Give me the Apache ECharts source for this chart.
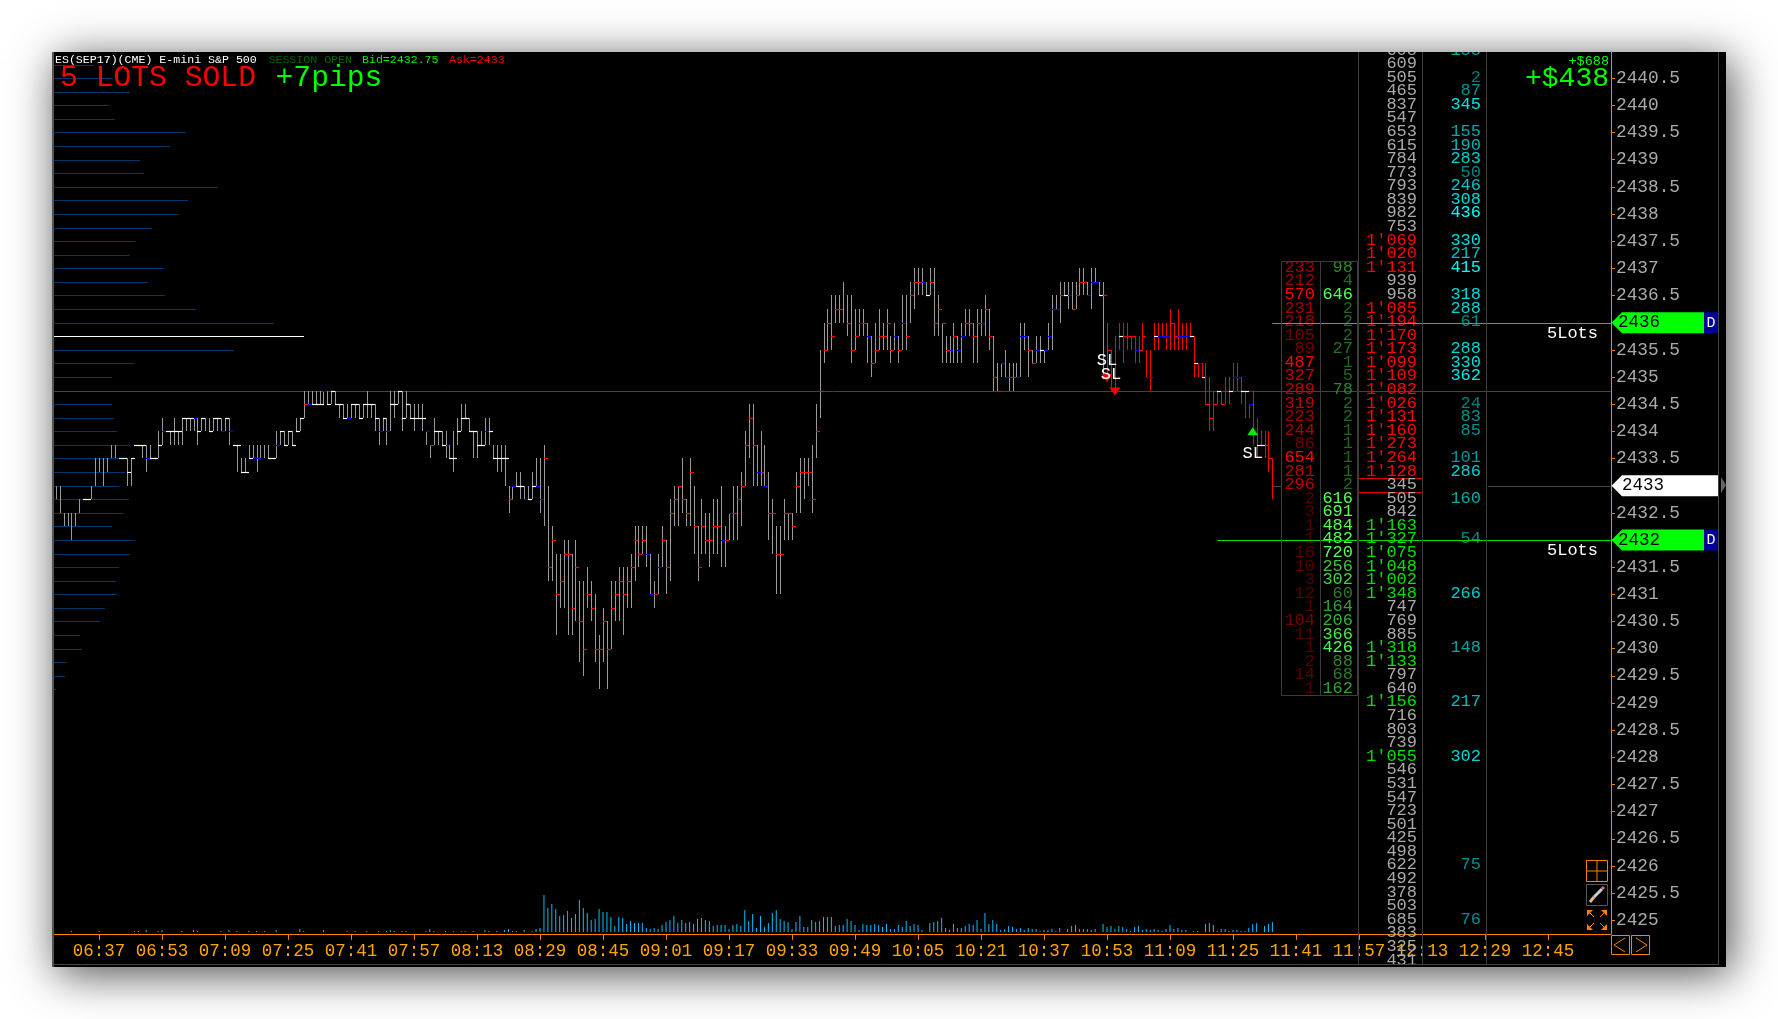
<!DOCTYPE html>
<html><head><meta charset="utf-8">
<style>html,body{margin:0;padding:0;background:#fff}#c{width:1778px;height:1019px}</style>
<script src="https://cdn.jsdelivr.net/npm/echarts@6/dist/echarts.min.js"></script>
</head><body><div id="c"></div>
<script>
const MONO = '"Liberation Mono"';
const timeLabels = ['06:37','06:53','07:09','07:25','07:41','07:57','08:13','08:29','08:45','09:01','09:17','09:33','09:49','10:05','10:21','10:37','10:53','11:09','11:25','11:41','11:57','12:13','12:29','12:45'];
const priceTicks = [2425,2425.5,2426,2426.5,2427,2427.5,2428,2428.5,2429,2429.5,2430,2430.5,2431,2431.5,2432,2432.5,2433,2433.5,2434,2434.5,2435,2435.5,2436,2436.5,2437,2437.5,2438,2438.5,2439,2439.5,2440,2440.5];
const firstBarTime = '06:26';
const barHighs = [
2433,2433,2432.5,2432.5,2432.5,2432.5,2432.75,2432.75,2432.75,2433,
2433.5,2433.5,2433.5,2433.5,2433.75,2433.75,2433.5,2433.5,2433.5,2433.5,
2433.75,2433.75,2433.75,2433.75,2433.75,2433.5,2434,2434.25,2434,2434,
2434.25,2434,2434.25,2434.25,2434.25,2434.25,2434.25,2434.25,2434.25,2434.25,
2434.25,2434.25,2434.25,2434.25,2434.25,2434,2433.75,2433.5,2433.5,2433.75,
2433.75,2433.75,2433.75,2433.75,2433.75,2433.5,2434,2434,2434,2434,
2434,2434.25,2434.25,2434.75,2434.75,2434.75,2434.75,2434.75,2434.75,2434.75,
2434.75,2434.75,2434.5,2434.5,2434.5,2434.5,2434.5,2434.5,2434.5,2434.75,
2434.5,2434.5,2434.25,2434.25,2434.25,2434.75,2434.75,2434.75,2434.75,2434.75,
2434.5,2434.5,2434.5,2434.5,2434,2433.75,2434.25,2434,2434,2434,
2433.75,2434,2434.25,2434.5,2434.5,2434.25,2434,2434,2434,2434.25,
2434.25,2433.75,2433.75,2433.75,2433.75,2433,2433,2433.25,2433.25,2433,
2433,2433.25,2433.5,2433.5,2433.75,2433,2432.25,2431.75,2431.75,2432,
2432,2431.75,2432,2431.25,2431.25,2431.5,2431.25,2431,2430.25,2430.75,
2430.5,2431.25,2431.25,2431.5,2431.5,2431.5,2431.75,2432.25,2432.25,2432.25,
2432.25,2431.75,2431.25,2431.75,2432.25,2432,2432.75,2433,2433,2433.5,
2432.75,2433.5,2433,2432.25,2432.75,2432.5,2432.5,2432.75,2432.75,2433,
2432.25,2432.5,2433,2433,2433.25,2434,2434.5,2434.5,2433.75,2434,
2433.75,2433.25,2432.75,2432.25,2432.25,2432.75,2432.5,2432.5,2433.25,2433.5,
2433.5,2433.5,2433.75,2434.5,2435.5,2436,2436.25,2436.5,2436.5,2436.5,
2436.75,2436.5,2436.5,2436.25,2436.25,2436.25,2436,2435.75,2436,2436.25,
2436,2436.25,2435.75,2436,2435.75,2436.5,2436.5,2436.75,2437,2437,
2437,2436.75,2437,2437,2436.5,2436,2435.75,2435.75,2436,2435.75,
2436,2436.25,2436.25,2436,2436.25,2436.25,2436.5,2436.25,2435.75,2435.25,
2435.25,2435.5,2435.25,2435.25,2435.25,2436,2436,2435.75,2435.5,2435.75,
2435.75,2435.5,2436,2436.5,2436.5,2436.75,2436.75,2436.75,2436.75,2436.75,
2437,2437,2436.75,2437,2437,2436.75,2436.75,2436,2435.5,2435.75,
2436,2436,2436,2435.75,2435.75,2435.75,2436,2435.5,2435.5,2436,
2436,2436,2436,2436.25,2436,2436.25,2436,2436,2436,2435.75,
2435.25,2435.25,2435.25,2435,2434.75,2434.75,2434.75,2435,2435,2435.25,
2435.25,2435,2434.75,2434.5,2434.75,2434.25,2434,2434,2434,2433.5];
const barLows = [
2432.75,2432.5,2432.25,2432.25,2432,2432.25,2432.5,2432.75,2432.75,2432.75,
2433,2433.25,2433,2433.25,2433.5,2433.5,2433.5,2433.5,2433,2433,
2433.75,2433.75,2433.5,2433.25,2433.5,2433.5,2433.5,2433.75,2434,2433.75,
2433.75,2433.75,2433.75,2434,2434,2434,2433.75,2434,2434,2434,
2434,2434,2434,2434,2433.75,2434,2433.25,2433.25,2433.25,2433.5,
2433.5,2433.25,2433.5,2433.5,2433.5,2433.5,2433.5,2433.75,2433.75,2433.75,
2433.75,2434,2434,2434.25,2434.5,2434.5,2434.5,2434.5,2434.5,2434.5,
2434.5,2434.5,2434.25,2434.25,2434.25,2434.25,2434.25,2434.25,2434.25,2434.25,
2434.25,2434,2433.75,2434,2433.75,2434,2434.25,2434.5,2434,2434.25,
2434.25,2434,2434.25,2434,2433.75,2433.5,2433.75,2433.75,2433.75,2433.5,
2433.5,2433.25,2433.75,2434,2434.25,2434,2433.5,2433.5,2433.75,2433.75,
2433.75,2433.5,2433.25,2433.25,2433,2432.5,2432.75,2433,2432.75,2432.75,
2432.75,2432.75,2433,2432.5,2432.25,2431.25,2431.25,2430.25,2430.75,2430.75,
2430.25,2430.25,2430.5,2429.75,2429.5,2430.75,2430.5,2429.75,2429.25,2429.75,
2429.25,2430,2430.5,2430.5,2430.25,2430.75,2430.75,2431.25,2431.5,2431.75,
2431.5,2431,2430.75,2431,2431.5,2431,2431.25,2432.25,2432.25,2432.5,
2432.25,2432.25,2431.75,2431.25,2431.75,2431.75,2431.5,2431.75,2431.75,2431.5,
2431.5,2432,2432,2432,2432.25,2433,2433.5,2433,2433,2433,
2433,2432,2431.75,2431,2431,2432,2432,2432,2432.5,2432.5,
2432.75,2433,2432.5,2433.5,2434.25,2435.25,2435.5,2435.5,2436,2436,
2436,2435.75,2435.25,2435.5,2435.75,2435.75,2435.25,2435,2435.25,2435.5,
2435.5,2435.5,2435.25,2435.5,2435.25,2435.5,2435.5,2436,2436.25,2436.5,
2436.5,2436.5,2436.5,2435.75,2435.75,2435.25,2435.25,2435.25,2435.25,2435.25,
2435.25,2435.75,2435.75,2435.25,2435.25,2435.75,2435.75,2435.5,2434.75,2434.75,
2435,2435,2434.75,2434.75,2435,2435,2435.5,2435,2435.25,2435.25,
2435.25,2435.25,2435.5,2435.5,2436.25,2436,2436.5,2436.25,2436.25,2436.25,
2436.5,2436.5,2436.5,2436.25,2436.75,2436.5,2435,2435,2434.75,2434.75,
2435.5,2435.25,2435.5,2435.5,2435.25,2435.25,2435.5,2435,2434.75,2435.5,
2435.5,2435.75,2435.5,2435.5,2435.5,2435.5,2435.5,2435.5,2435.75,2435,
2435,2435,2434.5,2434,2434,2434.5,2434.5,2434.5,2434.5,2434.75,
2434.75,2434.5,2434.25,2434.25,2433.75,2433.5,2433.75,2433.5,2433.25,2432.75];
const barCloses = [
null,null,null,null,null,null,null,2432.75,2432.75,null,
null,null,null,null,null,null,2433.5,2433.5,2433.25,2433.5,
2433.75,2433.75,2433.75,2433.5,2433.5,2433.5,2433.75,2434,2434,2434,
2434,2434,2434.25,2434.25,2434.25,2434.25,2434,2434.25,null,2434,
2434.25,2434.25,2434,2434.25,2434,2433.75,2433.75,2433.25,2433.25,2433.5,
2433.5,2433.5,null,null,2433.5,2433.5,2433.75,2434,2433.75,2434,
2433.75,2434,2434.25,2434.5,2434.5,2434.5,2434.5,2434.5,2434.75,2434.5,
2434.75,2434.5,2434.5,2434.25,2434.25,2434.5,2434.5,2434.25,2434.5,2434.5,
2434.5,2434.25,2434,2434.25,2434,2434.5,2434.5,2434.75,2434.25,2434.5,
2434.25,2434.25,2434.25,2434.25,2434,2433.75,2434,2434,2433.75,2433.75,
2433.5,2433.5,2434,2434.25,2434.25,2434,2434,2433.75,2433.75,2434,
2434,2433.5,2433.5,2433.5,2433.5,2432.75,2433,2433,2433,2432.75,
2432.75,2433,2433,2432.75,2433.5,2431.5,2432,2431,2431.25,2431.75,
2431.75,2430.75,2431.5,2430.5,2430,2431,2430.75,2430,2430,2430.5,
2430,2430.75,2431,2431.25,2431,2431.25,2431.5,2432,2431.75,2432,
2431.75,2431,2431,2431.5,2432,2431.5,2432.5,2432.75,2433,2432.75,
2432.5,2433.25,2432.25,2431.5,2432.25,2432,2432,2432.25,2432.25,2432,
2432,2432.5,2432.5,2432.75,2433,2433.75,2434.25,2433.75,2433.25,2433.25,
2433,2432.5,2432.5,2431.75,2431.75,2432.5,2432.5,2432.25,2433,2433.25,
2433.25,2433.25,2432.75,2434,2434.75,2435.5,2436,2435.75,2436.25,2436.25,
null,2436,2435.5,2435.75,2436,2436,2435.75,2435.25,2435.5,2435.75,
2435.75,2436,2435.5,2435.75,2435.5,2436,2435.75,2436.5,2436.75,2436.75,
2436.75,2436.5,2436.75,2436,2436.25,2436,2435.5,2435.5,2435.75,2435.5,
2435.75,2436,2436,2435.75,2436,2436,2436.25,2435.75,2435,2434.75,
2435.25,2435,2435,2435,2435,2435.75,2435.75,2435.5,2435.25,2435.5,
2435.5,2435.5,2435.75,2436.25,2436.25,2436.5,2436.5,2436.5,2436.25,2436.5,
2436.75,2436.75,2436.5,2436.75,2436.75,2436.5,2436.5,2435.5,null,2435.75,
2435.75,2435.75,2435.75,2435.75,2435.5,2435.5,2435.75,2435,2435,2435.75,
2435.75,2435.75,2435.75,2436,2435.75,2435.75,2435.75,2435.75,2435.75,2435.25,
2435.25,2435,2434.5,2434.25,2434.5,2434.75,2434.5,2434.75,2434.75,2435,
2435,2434.75,2434.75,2434.5,null,2433.75,2433.75,2433.75,2433.5,null];
const barFlags = [
'','','','','','','','w','w','',
'','','','','','','w','w','w','w',
'w','w','w','b','w','w','w','b','w','w',
'w','w','w','w','w','b','w','w','','w',
'w','w','b','w','b','w','w','w','w','w',
'b','b','','','w','w','b','w','w','w',
'w','w','w','r','b','w','w','w','b','w',
'w','w','w','w','b','w','w','w','w','w',
'w','w','b','w','b','w','w','w','w','w',
'w','w','w','w','b','r','w','w','w','b',
'w','w','w','w','w','w','w','w','w','b',
'w','w','w','w','w','r','b','w','w','b',
'w','w','b','b','r','r','r','r','r','r',
'r','r','r','r','r','r','r','r','r','r',
'r','r','r','r','r','r','r','r','r','r',
'b','b','r','b','r','r','r','r','r','r',
'r','r','r','r','r','r','r','r','r','b',
'r','b','r','r','r','r','r','r','b','r',
'b','r','r','r','r','r','r','r','r','r',
'r','r','r','r','r','r','r','r','r','r',
'','r','r','r','b','r','b','r','r','r',
'r','r','r','b','r','b','r','r','r','r',
'b','w','r','r','r','r','r','b','r','b',
'b','r','r','r','r','b','r','r','r','r',
'b','b','r','r','b','b','b','r','r','b',
'w','b','b','b','b','r','w','b','r','r',
'r','r','b','b','b','w','r','r','r','',
'w','r','r','r','b','r','r','b','b','w',
'b','b','b','r','r','b','b','b','w','w',
'b','w','r','r','r','w','r','r','w','b',
'b','w','w','b','','w','w','r','r',''];
const barVolumes = [
0,0,0,0,1,0,0,0,0,0,0,1,0,0,0,0,0,0,0,0,
1,1,0,2,0,0,1,2,0,0,0,0,1,0,0,2,1,0,0,0,
0,0,1,0,2,0,1,0,0,1,0,1,0,1,0,0,2,0,0,0,
0,0,3,1,0,0,0,0,2,0,0,0,0,0,1,0,1,0,0,1,
0,0,1,0,1,2,1,0,1,1,0,0,0,0,1,3,1,0,0,1,
0,1,0,1,1,0,1,0,0,2,1,0,1,0,2,3,1,1,0,2,
0,1,3,4,37,24,28,23,16,17,21,14,18,32,24,19,12,13,23,20,
20,15,6,15,14,8,11,9,9,9,4,3,4,3,7,10,12,16,9,12,
9,10,8,13,14,12,11,6,7,7,7,3,7,8,6,22,11,18,4,16,
5,9,19,22,13,11,10,3,10,16,5,5,12,10,11,15,15,15,6,7,
7,13,11,7,2,8,7,7,8,7,5,8,3,3,7,5,11,6,8,7,
2,0,9,10,11,14,4,2,8,4,4,6,8,7,12,3,19,8,12,8,
2,3,6,5,3,4,2,4,3,3,1,2,2,3,1,4,0,3,6,7,
3,3,3,2,3,0,8,5,6,3,6,5,3,1,5,6,2,3,2,3,
2,1,3,7,3,4,2,2,0,1,1,0,8,9,7,1,3,3,1,2,
2,1,1,4,8,9,0,6,8,10];
const profileTopPrice = 2440.75;
const profilePocPrice = 2435.75;
const profileValues = [40,59,76,55,61,132,116,86,90,164,134,125,98,81,76,110,94,111,142,220,250,180,80,58,47,58,60,63,76,74,71,65,75,70,58,81,76,65,62,63,51,46,26,28,13,11,2];
const ladderTopPrice = 2441;
const ladderVolume = [608,609,505,465,837,547,653,615,784,773,793,839,982,753,1069,1020,1131,939,958,1085,1194,1170,1173,1099,1109,1082,1026,1131,1160,1273,1264,1128,345,505,842,1163,1327,1075,1048,1002,1348,747,769,885,1318,1133,797,640,1156,716,803,739,1055,546,531,547,723,501,425,498,622,492,378,503,685,383,325,431];
const ladderCyan = [155,null,2,87,345,null,155,190,283,50,246,308,436,null,330,217,415,null,318,288,61,null,288,330,362,null,24,83,85,null,101,286,null,160,null,null,54,null,null,null,266,null,null,null,148,null,null,null,217,null,null,null,302,null,null,null,null,null,null,null,75,null,null,null,76,null,null,null];
const boxTopPrice = 2437;
const boxSell = [233,212,570,231,218,105,89,487,327,289,319,223,244,86,654,281,296,2,3,1,1,16,10,3,12,1,104,11,1,2,14,1];
const boxBuy = [98,4,646,2,2,2,27,1,5,78,2,2,1,1,1,1,2,616,691,484,482,720,256,302,60,164,206,366,426,88,68,162];
const lastPrice = 2433;
const orderPrices = [2436,2432];
const orderStartTimes = ['11:35','11:21'];
const orderLabels = ['5Lots','5Lots'];
const referencePrice = 2434.75;
const stopTimes = ['10:53','10:54','11:30'];
const stopPrices = [2435.31,2435.05,2433.6];
const sellArrowTimes = ['10:55','10:53'];
const sellArrowPrices = [2434.75,2435];
const buyArrowTimes = ['11:30'];
const buyArrowPrices = [2434];

const toMin = s => { const [h,m] = s.split(':').map(Number); return h*60+m; };
const fmtT = v => String(Math.floor(v/60)).padStart(2,'0')+':'+String(v%60).padStart(2,'0');
const t0 = toMin(firstBarTime);
const barT = i => t0+i;
const X_MIN = 385, X_MAX = 781;
const hex2 = v => Math.round(v).toString(16).padStart(2,'0');
const mix = (a,b,f) => a+(b-a)*Math.min(1,f);
const cyanC = v => { const c = hex2(mix(0x77,0xff,v/436)); return '#00'+c+c; };
const sellC = v => '#'+hex2(mix(0x55,0xff,v/500))+'0000';
const buyC = v => { const f=v/500; return '#'+hex2(mix(0x22,0x55,f))+hex2(mix(0x66,0xff,v/420))+hex2(mix(0x22,0x55,f)); };
const volC = (v,p) => v>=1000 ? (p>lastPrice?'#ff0000':'#00e000') : '#aaaaaa';
const fmtV = v => v>=1000 ? Math.floor(v/1000)+"'"+String(v%1000).padStart(3,'0') : String(v);
const flagC = {w:'#ffffff',b:'#0000ff',r:'#ff0000'};
const rowFont = '17px '+MONO;
const topClip = {type:'rect',shape:{x:0,y:52,width:1778,height:912}};

function rbars(params,api){
  const i = params.dataIndex, t = barT(i);
  const top = api.coord([t,barHighs[i]]), bot = api.coord([t,barLows[i]]);
  const x = Math.round(top[0])+0.5, ch = [];
  if (barHighs[i]!==barLows[i]) ch.push({type:'line',shape:{x1:x,y1:Math.round(top[1]),x2:x,y2:Math.round(bot[1])},style:{stroke:t>=653?'#ff0000':'#999999',lineWidth:1}});
  if (barCloses[i]!==null){
    const y = Math.round(api.coord([t,barCloses[i]])[1])+0.5;
    ch.push({type:'line',shape:{x1:x-0.5,y1:y,x2:x+3.5,y2:y},style:{stroke:flagC[barFlags[i]],lineWidth:1.2}});
  }
  return {type:'group',children:ch};
}
function rprofile(params,api){
  const i = params.dataIndex, p = profileTopPrice-i*0.25;
  const a = api.coord([0,p]), b = api.coord([profileValues[i],p]), y = Math.round(a[1])+0.5;
  return {type:'line',shape:{x1:a[0],y1:y,x2:b[0],y2:y},style:{stroke:p===profilePocPrice?'#ffffff':'#00386e',lineWidth:1}};
}
function rladder(params,api){
  const i = params.dataIndex, p = ladderTopPrice-i*0.25;
  const y = api.coord([X_MIN,p])[1]-1, ch = [];
  ch.push({type:'text',style:{text:fmtV(ladderVolume[i]),x:1417,y,fill:volC(ladderVolume[i],p),font:rowFont,align:'right',verticalAlign:'middle'}});
  if (ladderCyan[i]!==null) ch.push({type:'text',style:{text:String(ladderCyan[i]),x:1481,y,fill:cyanC(ladderCyan[i]),font:rowFont,align:'right',verticalAlign:'middle'}});
  const k = Math.round((boxTopPrice-p)/0.25);
  if (k>=0 && k<boxSell.length){
    ch.push({type:'text',style:{text:String(boxSell[k]),x:1315,y,fill:sellC(boxSell[k]),font:rowFont,align:'right',verticalAlign:'middle'}});
    ch.push({type:'text',style:{text:String(boxBuy[k]),x:1353,y,fill:buyC(boxBuy[k]),font:rowFont,align:'right',verticalAlign:'middle'}});
  }
  return {type:'group',clipPath:topClip,children:ch};
}
function rhlines(params,api){
  const ch = [];
  const yr = Math.round(api.coord([X_MIN,referencePrice])[1])+0.5;
  ch.push({type:'line',shape:{x1:api.coord([X_MIN,0])[0]+2,y1:yr,x2:1611,y2:yr},style:{stroke:'#444',lineWidth:1}});
  const yl = Math.round(api.coord([X_MIN,lastPrice])[1])+0.5;
  ch.push({type:'line',shape:{x1:1272,y1:yl,x2:1282,y2:yl},style:{stroke:'#444',lineWidth:1}});
  ch.push({type:'line',shape:{x1:1488,y1:yl,x2:1611,y2:yl},style:{stroke:'#444',lineWidth:1}});
  ch.push({type:'rect',shape:{x:1358.5,y:Math.round(api.coord([X_MIN,lastPrice])[1])-7.5,width:64,height:14},style:{fill:'none',stroke:'#e00000',lineWidth:1}});
  return {type:'group',children:ch};
}
function rorders(params,api){
  const i = params.dataIndex, p = orderPrices[i];
  const a = api.coord([toMin(orderStartTimes[i]),p]), y = Math.round(a[1])+0.5, b = api.coord([X_MAX,p]);
  return {type:'group',children:[
    {type:'line',shape:{x1:a[0],y1:y,x2:b[0],y2:y},style:{stroke:'#00e000',lineWidth:1}},
    {type:'text',style:{text:orderLabels[i],x:1598,y:y+10,fill:'#fff',font:rowFont,align:'right',verticalAlign:'middle'}}
  ]};
}
function rtags(params,api){
  const i = params.dataIndex;
  const all = [orderPrices[0],lastPrice,orderPrices[1]], p = all[i];
  const y = api.coord([X_MIN,p])[1], green = p!==lastPrice;
  const r = green?1704:1719;
  const ch = [{type:'polygon',shape:{points:[[1611.5,y],[1622,y-10.5],[r,y-10.5],[r,y+10.5],[1622,y+10.5]]},style:{fill:green?'#00ff00':'#ffffff'}},
    {type:'text',style:{text:String(p),x:green?1618:1622,y,fill:'#000',font:'17.5px '+MONO,align:'left',verticalAlign:'middle'}}];
  if (green){
    ch.push({type:'rect',shape:{x:1704,y:y-10.5,width:14,height:21},style:{fill:'#000099'}});
    ch.push({type:'text',style:{text:'D',x:1711,y,fill:'#fff',font:'15px '+MONO,align:'center',verticalAlign:'middle'}});
  }
  return {type:'group',children:ch};
}
function rstops(params,api){
  const i = params.dataIndex, c = api.coord([toMin(stopTimes[i]),stopPrices[i]]);
  return {type:'text',style:{text:'SL',x:c[0],y:c[1],fill:'#fff',font:rowFont,align:'center',verticalAlign:'middle'}};
}
function rsell(params,api){
  const i = params.dataIndex, c = api.coord([toMin(sellArrowTimes[i]),sellArrowPrices[i]]);
  return {type:'polygon',shape:{points:[[c[0]-5.5,c[1]-3],[c[0]+5.5,c[1]-3],[c[0],c[1]+5]]},style:{fill:'#ff0000'}};
}
function rbuy(params,api){
  const i = params.dataIndex, c = api.coord([toMin(buyArrowTimes[i]),buyArrowPrices[i]]);
  return {type:'polygon',shape:{points:[[c[0]-5.5,c[1]+4],[c[0]+5.5,c[1]+4],[c[0],c[1]-4]]},style:{fill:'#00ee00'}};
}
const orange = '#ff7f00';
const ln = (x1,y1,x2,y2,stroke,w) => ({type:'line',z:40,silent:true,shape:{x1,y1,x2,y2},style:{stroke,lineWidth:w||1}});
const rc = (x,y,width,height,fill,stroke,z) => ({type:'rect',z:z===undefined?40:z,silent:true,shape:{x,y,width,height},style:{fill,stroke}});
const tx = (text,x,y,size,fill,align) => ({type:'text',z:60,silent:true,style:{text,x,y,fill,font:size+'px '+MONO,align:align||'left',verticalAlign:'middle'}});
const poly = (points,fill) => ({type:'polygon',z:41,silent:true,shape:{points},style:{fill}});
const arrow = (cx,cy,sx,sy) => [ln(cx+sx*10,cy+sy*10,cx+sx*3,cy+sy*3,orange), poly([[cx+sx*10,cy+sy*10],[cx+sx*4,cy+sy*10],[cx+sx*10,cy+sy*4]],orange)];
const graphics = [
  {type:'rect',z:-10,silent:true,shape:{x:52,y:52,width:1674,height:915},style:{fill:'#000',shadowColor:'rgba(0,0,0,0.7)',shadowBlur:42,shadowOffsetX:5,shadowOffsetY:7}},
  rc(52,52,2,915,'#555',null,1),
  ln(1718.5,52,1718.5,964,'#444'), ln(52,964.5,1719,964.5,'#444',1),
  ln(1358.5,52,1358.5,964,'#3c3c3c'), ln(1422.5,52,1422.5,964,'#3c3c3c'), ln(1486.5,52,1486.5,964,'#3c3c3c'),
  rc(1281.5,261.5,76,434,'none','#3c3c3c'), ln(1320.5,261,1320.5,695,'#3c3c3c'),
  poly([[1721,477],[1726,485],[1721,493]],'#666'),
  tx('ES(SEP17)(CME) E-mini S&P 500',55,60,11.6,'#ffffff'),
  tx('SESSION OPEN',268.5,60,11.6,'#006600'),
  tx('Bid=2432.75',362,60,11.6,'#00ee00'),
  tx('Ask=2433',449,60,11.6,'#ff0000'),
  tx('5 LOTS SOLD',60,78,29.7,'#ff0000'),
  tx('+7pips',275.5,78,29.7,'#00ff00'),
  tx('+$438',1609,79,28,'#00ff00','right'),
  tx('+$688',1609,61,13.5,'#00ff00','right'),
  rc(1586.5,860.5,21,21,'none',orange), ln(1597,860,1597,881,orange), ln(1586,871,1607,871,orange),
  rc(1586.5,884.5,21,21,'none','#555'),
  ln(1590,902,1594,897,'#ddbb88',3), ln(1594,897,1602,889,'#cccccc',3), ln(1602,889,1604,887,'#cc7777',3),
  ...arrow(1597,920,-1,-1), ...arrow(1597,920,1,-1), ...arrow(1597,920,-1,1), ...arrow(1597,920,1,1),
  rc(1611.5,935.5,18,19,'none',orange), rc(1631.5,935.5,18,19,'none',orange),
  ln(1625,938,1614,945,orange), ln(1614,945,1625,952,orange),
  ln(1636,938,1647,945,orange), ln(1647,945,1636,952,orange)
];

const chart = echarts.init(document.getElementById('c'),null,{renderer:'canvas',width:1778,height:1019});
const gridL = 51.75, gridR = 1778-1611, gridT = 51, gridB = 1019-933.85;
chart.setOption({
  animation:false,
  backgroundColor:'#ffffff',
  graphic:{elements:graphics},
  grid:[
    {left:gridL,right:gridR,top:gridT,bottom:gridB,containLabel:false},
    {left:gridL,right:gridR,top:885,height:47,containLabel:false}
  ],
  xAxis:[
    {type:'value',gridIndex:0,min:X_MIN,max:X_MAX,splitLine:{show:false},
      axisLine:{onZero:false,lineStyle:{color:orange,width:1}},
      axisTick:{show:true,length:6,customValues:timeLabels.map(toMin),lineStyle:{color:orange}},
      axisLabel:{customValues:timeLabels.map(toMin),formatter:v=>fmtT(v),color:'#ffa500',fontFamily:MONO,fontSize:17.5,margin:9,hideOverlap:false}},
    {type:'value',gridIndex:0,min:-2.25,max:1557,show:false,splitLine:{show:false}},
    {type:'value',gridIndex:1,min:X_MIN,max:X_MAX,show:false,splitLine:{show:false}}
  ],
  yAxis:[
    {type:'value',gridIndex:0,position:'right',min:2424.75,max:2441,interval:0.25,splitLine:{show:false},
      axisLine:{show:true,onZero:false,lineStyle:{color:orange,width:1}},
      axisTick:{show:true,length:4,customValues:priceTicks,lineStyle:{color:orange}},
      axisLabel:{customValues:priceTicks,formatter:v=>String(v),color:'#aaaaaa',fontFamily:MONO,fontSize:17.8,margin:5,padding:[3,0,0,0],hideOverlap:false,showMinLabel:true,showMaxLabel:true}},
    {type:'value',gridIndex:1,min:0,max:47,show:false,splitLine:{show:false}}
  ],
  series:[
    {type:'custom',name:'profile',xAxisIndex:1,yAxisIndex:0,clip:false,z:3,silent:true,renderItem:rprofile,data:profileValues.map((v,i)=>[v,profileTopPrice-i*0.25])},
    {type:'custom',name:'levels',xAxisIndex:0,yAxisIndex:0,clip:false,z:3,silent:true,renderItem:rhlines,data:[[X_MIN,lastPrice]]},
    {type:'custom',name:'bars',xAxisIndex:0,yAxisIndex:0,clip:false,z:5,silent:true,renderItem:rbars,data:barHighs.map((v,i)=>[barT(i),v])},
    {type:'custom',name:'ladder',xAxisIndex:0,yAxisIndex:0,clip:false,z:6,silent:true,renderItem:rladder,data:ladderVolume.map((v,i)=>[X_MIN,ladderTopPrice-i*0.25])},
    {type:'custom',name:'orders',xAxisIndex:0,yAxisIndex:0,clip:false,z:8,silent:true,renderItem:rorders,data:orderPrices.map(p=>[X_MIN,p])},
    {type:'custom',name:'tags',xAxisIndex:0,yAxisIndex:0,clip:false,z:9,silent:true,renderItem:rtags,data:[[X_MIN,2436],[X_MIN,2433],[X_MIN,2432]]},
    {type:'custom',name:'sell',xAxisIndex:0,yAxisIndex:0,clip:false,z:9,silent:true,renderItem:rsell,data:sellArrowTimes.map((t,i)=>[toMin(t),sellArrowPrices[i]])},
    {type:'custom',name:'buy',xAxisIndex:0,yAxisIndex:0,clip:false,z:9,silent:true,renderItem:rbuy,data:buyArrowTimes.map((t,i)=>[toMin(t),buyArrowPrices[i]])},
    {type:'custom',name:'stops',xAxisIndex:0,yAxisIndex:0,clip:false,z:10,silent:true,renderItem:rstops,data:stopTimes.map((t,i)=>[toMin(t),stopPrices[i]])},
    {type:'bar',name:'volume',xAxisIndex:2,yAxisIndex:1,barWidth:1,itemStyle:{color:'#00bfff'},silent:true,data:barVolumes.map((v,i)=>[barT(i),v])}
  ]
});
</script></body></html>
